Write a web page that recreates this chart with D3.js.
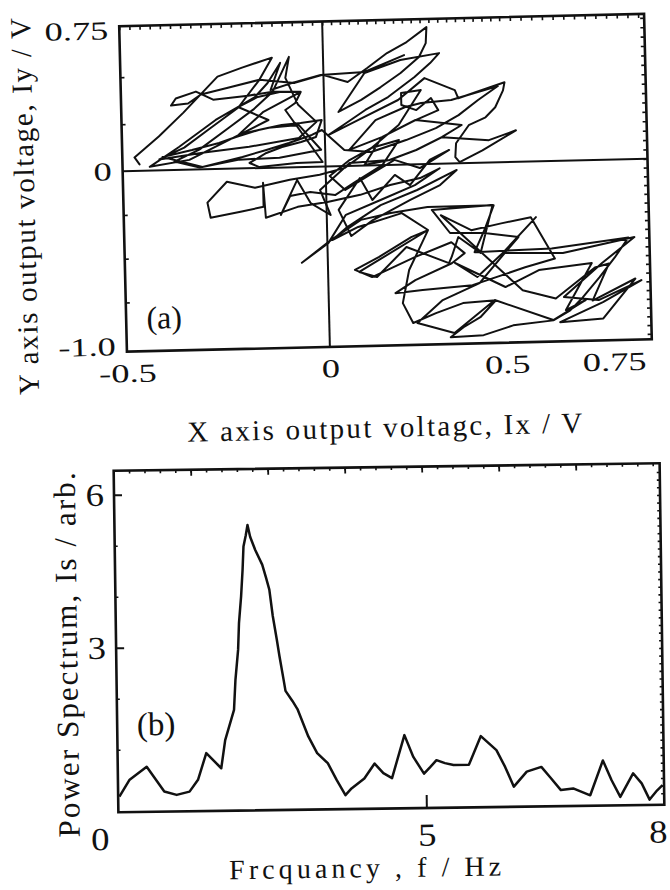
<!DOCTYPE html>
<html><head><meta charset="utf-8">
<script src="https://cdn.jsdelivr.net/npm/d3@7"></script>
<style>
body{margin:0;background:#fff}
svg{display:block}
</style>
</head><body>
<svg id="c" width="670" height="890"></svg>
<script>
// ---------- data (a): trajectory Ix / Iy (V) ----------
const ixData = [-0.458,-0.470,-0.409,-0.347,-0.261,-0.200,-0.126,-0.158,-0.212,-0.286,-0.347,-0.409,-0.298,-0.187,-0.064,-0.020,-0.064,-0.094,-0.084,-0.126,
-0.175,-0.236,-0.310,-0.372,-0.310,-0.212,-0.113,-0.010,-0.064,-0.138,-0.212,-0.150,-0.057,-0.126,-0.187,-0.273,-0.315,-0.365,-0.377,-0.335,
-0.303,-0.236,-0.158,-0.071,-0.002,0.068,0.124,0.181,0.237,0.294,0.291,0.271,0.218,0.161,0.105,0.040,0.116,0.218,0.328,0.302,
0.257,0.181,0.116,0.054,0.011,0.096,0.209,0.285,0.370,0.379,0.509,0.505,0.483,0.455,0.407,0.370,0.367,0.379,0.444,0.533,
0.463,0.331,0.257,0.181,0.110,0.161,0.257,0.322,0.302,0.260,0.218,0.218,0.274,0.209,0.124,0.054,-0.015,-0.089,-0.175,-0.244,
-0.293,-0.286,-0.212,-0.155,-0.155,-0.150,-0.071,0.003,0.096,0.181,0.266,0.322,0.251,0.153,0.054,0.003,-0.064,0.011,0.096,0.181,
0.285,0.472,0.444,0.415,0.610,0.790,0.757,0.720,0.680,0.650,0.610,0.516,0.435,0.342,0.379,0.427,0.472,0.379,0.302,0.237,
0.209,0.229,0.285,0.237,0.144,0.076,0.124,0.246,0.350,0.387,0.350,0.246,0.189,0.266,0.407,0.547,0.617,0.563,0.492,0.407,
0.322,0.540,0.617,0.710,0.743,0.703,0.804,0.727,
0.626,0.727,0.818,0.717,0.636,0.727,0.804,0.636,0.494,0.575,0.494,0.421,0.359,0.500,0.579,0.703,0.640,0.687,0.610,0.469,
0.353,0.249,0.322,0.427,0.500,0.533,0.444,0.347,0.297,0.469,0.432,0.370,0.350,0.342,0.223,0.138,0.088,0.285,0.212,0.088,0.014,
0.054,0.153,0.257,0.370,0.322,0.237,0.130,0.068,0.034,0.096,0.130,0.195,0.237,0.294,0.350,0.266,0.195,0.124,0.054,0.011,
0.068,0.130,0.209,0.161,0.082,0.025,-0.039,-0.089,-0.113,-0.071,-0.039,0.011,-0.015,
0.068,0.181,0.257,0.330,0.387,0.257,0.161,0.068,0.144,0.229,0.274,0.359,0.492,0.435,0.379,0.314,0.229,0.130,0.054,
-0.007,-0.032,-0.089,-0.145,-0.204,-0.303,-0.401,-0.328,-0.261,-0.219,-0.163,-0.106,-0.059,-0.007,-0.022,-0.059,-0.106,-0.145,-0.187,-0.163,
-0.071,-0.007,-0.096,-0.071,-0.057,-0.106,-0.163,-0.212,-0.138,-0.236,-0.335,
-0.433,-0.360,-0.268,-0.204,-0.170,-0.138,-0.106,-0.131,-0.071,-0.007,0.116,0.229];
const iyData = [0.034,0.072,0.180,0.304,0.491,0.536,0.585,0.469,0.323,0.211,0.118,0.058,0.089,0.114,0.155,0.238,0.331,0.476,0.587,0.404,
0.311,0.218,0.105,0.045,0.010,0.047,0.052,0.089,0.224,0.213,0.180,0.298,0.400,0.404,0.386,0.369,0.414,0.380,0.343,0.352,
0.398,0.431,0.469,0.448,0.487,0.446,0.518,0.595,0.651,0.728,0.643,0.570,0.487,0.415,0.349,0.288,0.492,0.556,0.588,0.536,
0.464,0.361,0.295,0.219,0.167,0.243,0.344,0.457,0.389,0.346,0.425,0.382,0.293,0.241,0.201,0.107,0.033,0.006,0.066,0.168,
0.119,0.141,0.076,0.026,0.003,0.149,0.235,0.285,0.350,0.288,0.317,0.381,0.394,0.211,0.082,-0.011,-0.047,-0.071,-0.112,-0.074,
-0.191,-0.277,-0.247,-0.222,-0.085,-0.285,-0.227,-0.203,-0.167,-0.115,-0.079,-0.026,-0.119,-0.199,-0.279,-0.437,-0.547,-0.420,-0.310,-0.275,
-0.246,-0.245,-0.386,-0.510,-0.499,-0.447,-0.559,-0.671,-0.783,-0.855,-0.910,-0.933,-0.985,-0.992,-0.937,-0.882,-0.787,-0.799,-0.853,-0.906,
-0.791,-0.603,-0.378,-0.415,-0.525,-0.595,-0.638,-0.530,-0.450,-0.514,-0.570,-0.661,-0.733,-0.719,-0.698,-0.603,-0.557,-0.318,-0.349,-0.384,
-0.294,-0.734,-0.785,-0.614,-0.593,-0.802,-0.682,-0.906,
-0.921,-0.812,-0.692,-0.800,-0.778,-0.589,-0.445,-0.527,-0.519,-0.318,-0.519,-0.652,-0.569,-0.713,-0.621,-0.588,-0.853,-0.798,-0.908,-0.786,
-0.969,-0.907,-0.779,-0.687,-0.519,-0.429,-0.402,-0.397,-0.263,-0.243,-0.515,-0.421,-0.534,-0.569,-0.471,-0.638,-0.607,-0.377,-0.277,-0.350,-0.421,
-0.354,-0.228,-0.147,-0.038,-0.122,-0.203,-0.313,-0.401,-0.250,-0.071,-0.198,-0.058,-0.118,0.021,0.072,-0.022,0.026,-0.055,-0.137,-0.055,
0.031,0.092,0.131,0.001,-0.093,-0.165,-0.144,-0.164,-0.271,-0.074,-0.207,-0.278,-0.134,
0.015,0.026,0.076,0.141,0.203,0.236,0.149,0.085,0.240,0.306,0.325,0.337,0.406,0.334,0.256,0.190,0.130,0.071,0.085,
0.194,0.169,0.129,0.095,0.061,0.013,0.071,0.104,0.138,0.168,0.202,0.226,0.234,0.247,0.158,0.133,0.109,0.079,0.028,0.005,
0.022,0.024,0.305,0.341,0.399,0.402,0.378,0.327,0.254,0.153,0.052,
0.020,0.122,0.261,0.337,0.378,0.451,0.556,0.413,0.452,0.487,0.497,0.582];
const xTicksA = [-0.5, 0, 0.5, 0.75];
const xTickLabelsA = ["-0.5", "0", "0.5", "0.75"];
const yTicksA = [-1.0, 0, 0.75];
const yTickLabelsA = ["-1.0", "0", "0.75"];

// ---------- data (b): power spectrum ----------
const freqData = [0.02,0.19,0.47,0.75,0.95,1.16,1.30,1.44,1.68,1.75,1.90,1.93,1.98,2.00,2.04,2.07,2.09,2.13,2.16,2.20,
2.28,2.39,2.45,2.50,2.55,2.61,2.65,2.71,2.74,2.85,2.93,3.10,3.24,3.41,3.55,3.69,3.79,4.00,4.17,4.31,
4.45,4.66,4.80,4.97,5.06,5.14,5.25,5.36,5.56,5.72,5.92,6.03,6.14,6.31,6.50,6.61,6.75,6.91,7.13,7.30,
7.41,7.52,7.69,7.80,7.90,8.00,8.07];
const powerData = [0.08,0.41,0.66,0.17,0.10,0.16,0.39,0.91,0.61,1.16,1.75,2.34,2.93,3.45,3.97,4.49,4.95,5.17,5.37,5.14,
4.88,4.59,4.33,4.10,3.58,3.12,2.79,2.34,2.11,1.91,1.75,1.21,0.88,0.68,0.35,0.05,0.18,0.37,0.66,0.47,
0.37,1.21,0.78,0.45,0.58,0.71,0.65,0.61,0.61,1.17,0.89,0.56,0.17,0.46,0.55,0.35,0.09,0.12,-0.02,0.66,
0.27,-0.06,0.40,0.20,-0.12,0.06,0.16];
const xTicksB = [0, 5, 8];
const xTickLabelsB = ["0", "5", "8"];
const yTicksB = [3, 6];
const yTickLabelsB = ["3", "6"];

const titleXA = "X axis output voltagc, Ix / V";
const titleYA = "Y axis output voltage, Iy / V";
const titleXB = "Frcquancy , f / Hz";
const titleYB = "Power Spectrum, Is / arb.";

// ---------- drawing ----------
const INK = "#111";
const FONT = '"Liberation Serif","DejaVu Serif",serif';
const svg = d3.select("#c");

function stretch(sel, f) {
  sel.each(function () {
    const w = this.getComputedTextLength();
    d3.select(this).attr("textLength", w * f).attr("lengthAdjust", "spacingAndGlyphs");
  });
}
function tickAxis(g, axis, tr, w) {
  const s = g.append("g").attr("transform", tr).call(axis);
  s.select(".domain").remove();
  s.selectAll("line").attr("stroke", INK).attr("stroke-width", w);
  s.selectAll("text").remove();
  return s;
}
function labelAxis(g, axis, tr, size, f) {
  const s = g.append("g").attr("transform", tr).call(axis);
  s.select(".domain").remove();
  s.selectAll("line").remove();
  s.attr("font-family", FONT).attr("font-size", size);
  s.selectAll("text").attr("fill", INK);
  stretch(s.selectAll("text"), f);
  return s;
}

// ===== Panel (a) =====
const ga = svg.append("g").attr("transform", "rotate(-1.36 386 183)");
const xa = d3.scaleLinear().domain([-0.5, 0, 0.5, 0.839]).range([123, 326, 503, 648]);
const ya = d3.scaleLinear().domain([-1.031, 0, 0.771]).range([345.5, 165, 20]);
const ax0 = xa.range()[0], ax1 = xa.range()[3];
const ayB = ya.range()[0], ayT = ya.range()[2];

ga.append("path")
  .datum(d3.zip(ixData, iyData))
  .attr("d", d3.line().x(d => xa(d[0])).y(d => ya(d[1])))
  .attr("fill", "none").attr("stroke", INK).attr("stroke-width", 2)
  .attr("stroke-linejoin", "round").attr("stroke-linecap", "round");

ga.append("line").attr("x1", xa(0)).attr("x2", xa(0)).attr("y1", ayT).attr("y2", ayB)
  .attr("stroke", INK).attr("stroke-width", 2);
ga.append("line").attr("x1", ax0).attr("x2", ax1).attr("y1", ya(0)).attr("y2", ya(0))
  .attr("stroke", INK).attr("stroke-width", 2);

ga.append("rect").attr("x", ax0).attr("y", ayT).attr("width", ax1 - ax0).attr("height", ayB - ayT)
  .attr("fill", "none").attr("stroke", INK).attr("stroke-width", 2.6);

tickAxis(ga, d3.axisTop(xa).tickValues(d3.range(-0.5, 0.83, 0.025)).tickSize(-4), `translate(0,${ayT})`, 1.6);
tickAxis(ga, d3.axisRight(ya).tickValues(d3.range(-1.0, 0.76, 0.05)).tickSize(-4), `translate(${ax1},0)`, 1.6);
tickAxis(ga, d3.axisLeft(ya).tickValues([0.5, 0.25, -0.25, -0.5, -0.75]).tickSize(-4), `translate(${ax0},0)`, 1.6);

labelAxis(ga, d3.axisLeft(ya).tickValues(yTicksA).tickSize(0).tickPadding(11)
  .tickFormat(d => yTickLabelsA[yTicksA.indexOf(d)]), `translate(${ax0},0)`, 26, 1.4);
labelAxis(ga, d3.axisBottom(xa).tickValues(xTicksA).tickSize(0).tickPadding(12)
  .tickFormat(d => xTickLabelsA[xTicksA.indexOf(d)]), `translate(0,${ayB})`, 26, 1.4);

ga.append("text").attr("x", 379).attr("y", 437).attr("text-anchor", "middle")
  .attr("font-family", FONT).attr("font-size", 29).attr("fill", INK)
  .attr("textLength", 395).attr("lengthAdjust", "spacing").text(titleXA);
ga.append("text").attr("transform", "translate(34,198) rotate(-90)").attr("text-anchor", "middle")
  .attr("font-family", FONT).attr("font-size", 29).attr("fill", INK)
  .attr("textLength", 377).attr("lengthAdjust", "spacing").text(titleYA);
ga.append("text").attr("x", 161).attr("y", 323).attr("text-anchor", "middle")
  .attr("font-family", FONT).attr("font-size", 32).attr("fill", INK).text("(a)");

// ===== Panel (b) =====
const gb = svg.append("g").attr("transform", "rotate(-0.79 390 638)");
const xb = d3.scaleLinear().domain([0, 5, 8.09]).range([116, 424, 662]);
const yb = d3.scaleLinear().domain([-0.225, 6.47]).range([808.5, 467]);
const bx0 = xb.range()[0], bx1 = xb.range()[2];
const byB = yb.range()[0], byT = yb.range()[1];

gb.append("path")
  .datum(d3.zip(freqData, powerData))
  .attr("d", d3.line().x(d => xb(d[0])).y(d => yb(d[1])))
  .attr("fill", "none").attr("stroke", INK).attr("stroke-width", 2.5)
  .attr("stroke-linejoin", "round");

gb.append("rect").attr("x", bx0).attr("y", byT).attr("width", bx1 - bx0).attr("height", byB - byT)
  .attr("fill", "none").attr("stroke", INK).attr("stroke-width", 2.6);

const topMinor = d3.range(0, 5, 0.25).concat(d3.range(5, 8.05, 0.2));
tickAxis(gb, d3.axisTop(xb).tickValues(topMinor).tickSize(-3), `translate(0,${byT})`, 1.6);
tickAxis(gb, d3.axisTop(xb).tickValues([1.25, 2.5, 3.75, 5, 6, 7]).tickSize(-6), `translate(0,${byT})`, 1.8);
tickAxis(gb, d3.axisRight(yb).tickValues(d3.range(0, 6.4, 0.15)).tickSize(-3), `translate(${bx1},0)`, 1.6);
tickAxis(gb, d3.axisLeft(yb).tickValues([1, 2, 4, 5]).tickSize(-3), `translate(${bx0},0)`, 1.6);
tickAxis(gb, d3.axisLeft(yb).tickValues(yTicksB).tickSize(-8), `translate(${bx0},0)`, 2);
tickAxis(gb, d3.axisBottom(xb).tickValues([5]).tickSize(-13), `translate(0,${byB})`, 2);

labelAxis(gb, d3.axisLeft(yb).tickValues(yTicksB).tickSize(0).tickPadding(10)
  .tickFormat(d => yTickLabelsB[yTicksB.indexOf(d)]), `translate(${bx0},0)`, 32, 1.15);
const xlb = labelAxis(gb, d3.axisBottom(xb).tickValues(xTicksB).tickSize(0).tickPadding(15)
  .tickFormat(d => xTickLabelsB[xTicksB.indexOf(d)]), `translate(0,${byB})`, 32, 1.15);
xlb.selectAll("text").attr("dx", d => d === xTicksB[0] ? -19 : 0);

gb.append("text").attr("x", 362).attr("y", 877).attr("text-anchor", "middle")
  .attr("font-family", FONT).attr("font-size", 28).attr("fill", INK)
  .attr("textLength", 272).attr("lengthAdjust", "spacing").text(titleXB);
gb.append("text").attr("transform", "translate(77,650.5) rotate(-90)").attr("text-anchor", "middle")
  .attr("font-family", FONT).attr("font-size", 31).attr("fill", INK)
  .attr("textLength", 365).attr("lengthAdjust", "spacing").text(titleYB);
gb.append("text").attr("x", 155).attr("y", 732).attr("text-anchor", "middle")
  .attr("font-family", FONT).attr("font-size", 33).attr("fill", INK).text("(b)");
</script>
</body></html>
